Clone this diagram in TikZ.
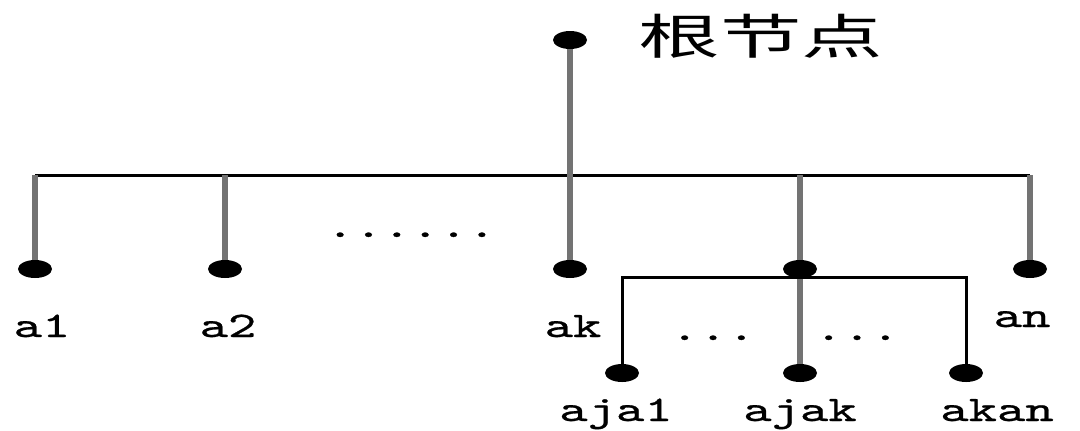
\documentclass[tikz,border=0pt]{standalone}
\usepackage{fontspec}
\newfontfamily\cjk[FakeStretch=1.7]{Noto Sans CJK SC}
\newfontfamily\lbl[FakeStretch=1.5,FakeBold=0.7]{lmmono10-regular.otf}
\usetikzlibrary{shapes.geometric}

\begin{document}
\begin{tikzpicture}[x=0.5pt,y=-0.5pt,
  dot/.style={ellipse,fill=black,inner sep=0pt,minimum width=17pt,minimum height=9pt},
  stem/.style={line width=3pt,black!55},
  bus/.style={line width=1.5pt,black},
  lab/.style={anchor=base,inner sep=0pt,font=\lbl\fontsize{18}{18}\selectfont}]
\useasboundingbox[fill=white] (0,0) rectangle (1080,430);
\node[dot] (root) at (570,40) {};
\node[inner sep=0pt,font=\cjk\fontsize{24}{24}\selectfont] (rootlab) at (761,36) {根节点};
\foreach \n/\x in {a1/35,a2/225,ak/570,aj/800,an/1030}
  \node[dot] (\n) at (\x,269) {};
\foreach \n/\x in {aja1/622,ajak/800,akan/966}
  \node[dot] (\n) at (\x,373) {};
\foreach \n/\x in {b1/35,b2/225,bj/800,bn/1030}
  \coordinate (\n) at (\x,175);
\coordinate (s1) at (622,277);
\coordinate (s3) at (966,277);
\draw[bus] (b1) -- (bn);
\draw[stem] (root) -- (ak);
\foreach \f/\t in {b1/a1,b2/a2,bj/aj,bn/an,aj/ajak}
  \draw[stem] (\f) -- (\t);
\draw[bus] (aja1) -- (s1) -- (s3) -- (akan);
\node[lab] (la1) at (42,337) {a1};
\node[lab] (la2) at (228,337) {a2};
\node[lab] (lak) at (573,337) {ak};
\node[lab] (lan) at (1022,327) {an};
\node[lab] (laja1) at (616,421) {aja1};
\node[lab] (lajak) at (800,421) {ajak};
\node[lab] (lakan) at (997,421) {akan};
\node[lab] (gap1) at (411,237) {......};
\node[lab] (gap2) at (713,340) {...};
\node[lab] (gap3) at (857,340) {...};
\end{tikzpicture}
\end{document}
